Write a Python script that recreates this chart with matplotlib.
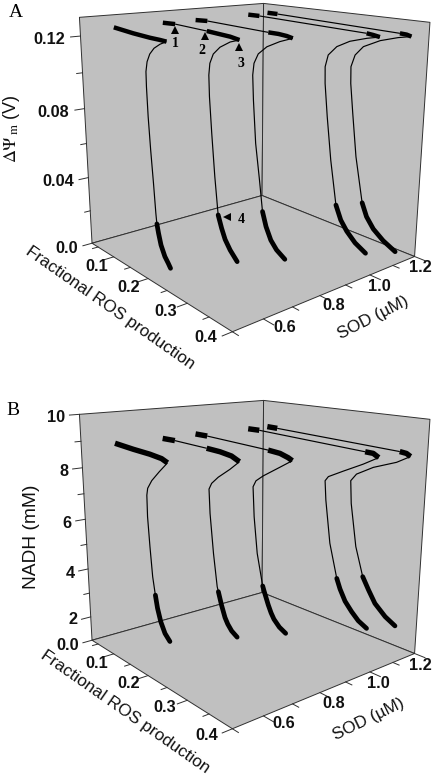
"""Two-panel 3D bifurcation plot: membrane potential and NADH vs ROS production and SOD."""

import matplotlib
matplotlib.use("Agg")
import matplotlib.pyplot as plt
from mpl_toolkits.mplot3d.art3d import Poly3DCollection

plt.rcParams["font.family"] = ["Liberation Sans", "DejaVu Sans"]

SOD = [0.6, 0.8, 0.9, 1.1, 1.2]

# each curve is a list of runs, starting thick and alternating thick / thin
PSI_ROS = [
    [[.04, .097, .143, .169, .186],
     [.186, .169, .153, .141, .133, .129, .129, .131, .135, .14, .144, .146],
     [.146, .15, .156, .166, .175, .181]],
    [[.018, .054], [.054, .14], [.14, .165, .198, .22],
     [.22, .198, .173, .156, .147, .144, .145, .15, .157, .165],
     [.165, .174, .183, .196, .214]],
    [[.038, .071], [.071, .224], [.224, .247, .265, .278],
     [.278, .25, .221, .201, .191, .188, .19, .196, .206, .214],
     [.214, .223, .235, .249, .269]],
    [[.05, .08], [.08, .326], [.326, .339, .352],
     [.352, .327, .293, .266, .248, .242, .243, .25, .261, .276],
     [.276, .288, .302, .321, .344]],
    [[.041, .068], [.068, .346], [.346, .359, .368],
     [.368, .343, .308, .274, .257, .249, .25, .257, .268, .286],
     [.286, .297, .313, .335, .361]],
]
PSI = [
    [[.1236, .1224, .1218, .1217, .1215],
     [.1215, .1195, .1168, .1133, .1089, .1035, .0954, .0793, .0612, .0427, .0259, .0199],
     [.0199, .0148, .0086, .003, .0001, -.0021]],
    [[.1227, .1231], [.1231, .1222], [.1222, .1218, .1213, .1204],
     [.1204, .1185, .1147, .1103, .1048, .0981, .086, .0653, .0404, .0181],
     [.0181, .0109, .0051, .0001, -.0048]],
    [[.1236, .1241], [.1241, .123], [.123, .123, .1226, .1219],
     [.1219, .1191, .1152, .1105, .1049, .0982, .0843, .0597, .0389, .0208],
     [.0208, .0126, .0057, .0014, -.0019]],
    [[.1247, .1248], [.1248, .1232], [.1232, .1228, .1222],
     [.1222, .1206, .1177, .1137, .1083, .1014, .0919, .0731, .0482, .0223],
     [.0223, .0143, .009, .004, .0004]],
    [[.1244, .1244], [.1244, .1224], [.1224, .1222, .1215],
     [.1215, .12, .117, .1123, .1068, .0997, .09, .0727, .0473, .0204],
     [.0204, .0128, .0068, .002, -.0018]],
]
NADH_ROS = [
    [[.041, .095, .141, .172, .187],
     [.187, .165, .144, .132, .129, .129, .133, .138, .144],
     [.144, .149, .157, .168, .181]],
    [[.016, .052], [.052, .139], [.139, .173, .201, .22],
     [.22, .197, .168, .151, .144, .146, .154, .163, .166],
     [.166, .174, .183, .19, .2, .214]],
    [[.037, .07], [.07, .224], [.224, .251, .269, .278],
     [.278, .251, .213, .196, .189, .192, .2, .214],
     [.214, .218, .228, .235, .242, .255, .27]],
    [[.05, .08], [.08, .325], [.325, .341, .352],
     [.352, .322, .282, .25, .243, .246, .258, .276],
     [.276, .284, .296, .311, .326, .344]],
    [[.041, .068], [.068, .348], [.348, .361, .369],
     [.369, .343, .297, .262, .25, .253, .267, .285],
     [.285, .299, .314, .337, .358]],
]
NADH = [
    [[8.84, 8.77, 8.73, 8.67, 8.57],
     [8.57, 8.18, 7.78, 7.45, 7.18, 6.37, 5.24, 4.09, 3.4],
     [3.4, 2.91, 2.43, 2.04, 1.82]],
    [[8.73, 8.74], [8.74, 8.69], [8.69, 8.66, 8.59, 8.44],
     [8.44, 8.08, 7.68, 7.38, 7.13, 6.18, 4.61, 3.3, 3.11],
     [3.11, 2.61, 2.15, 1.93, 1.72, 1.57]],
    [[8.86, 8.86], [8.86, 8.75], [8.75, 8.71, 8.61, 8.53],
     [8.53, 8.2, 7.74, 7.49, 7.23, 6.06, 4.63, 3.38],
     [3.38, 3.17, 2.69, 2.41, 2.2, 1.97, 1.83]],
    [[8.9, 8.91], [8.91, 8.74], [8.74, 8.73, 8.61],
     [8.61, 8.27, 7.87, 7.54, 7.35, 6.59, 4.89, 3.54],
     [3.54, 3.15, 2.72, 2.39, 2.12, 1.94]],
    [[8.87, 8.86], [8.86, 8.69], [8.69, 8.66, 8.57],
     [8.57, 8.27, 7.92, 7.53, 7.22, 6.3, 4.57, 3.4],
     [3.4, 2.92, 2.45, 2.05, 1.82]],
]

ROS_LIM = (0.03, 0.4)
SOD_LIM = (0.5, 1.2)
PSI_LIM = (0.0, 0.13)
NADH_LIM = (1.0, 10.0)

ROS_TICKS = [0.1, 0.2, 0.3, 0.4]
ROS_MINOR = [0.05, 0.15, 0.25, 0.35]
SOD_TICKS = [0.6, 0.8, 1.0, 1.2]
SOD_MINOR = [0.5, 0.7, 0.9, 1.1]
PSI_TICKS = [0.0, 0.04, 0.08, 0.12]
PSI_MINOR = [0.02, 0.06, 0.10]
NADH_TICKS = [1, 2, 4, 6, 8, 10]
NADH_MINOR = [3, 5, 7, 9]

GREY = "#c0c0c0"
EDGE = "#303030"
FIG_W, FIG_H = 433, 778
AX_SIZE = 400.8  # px, square 3D axes


def draw_panel(fig, bottom_px, ros, values, zlim, zticks, zminor, upper_lw):
    ax = fig.add_axes([44.84 / FIG_W, bottom_px / FIG_H, AX_SIZE / FIG_W, AX_SIZE / FIG_H],
                      projection="3d", computed_zorder=False)
    ax.set_xlim(ROS_LIM)
    ax.set_ylim(SOD_LIM)
    ax.set_zlim(zlim)
    ax.view_init(elev=15.41, azim=-39.88, roll=-0.21)
    ax.set_proj_type("persp", focal_length=0.352)
    ax.set_box_aspect((1, 0.994, 0.9955), zoom=1)
    ax.set_axis_off()
    ax.patch.set_alpha(0)

    x0, x1 = ROS_LIM
    y0, y1 = SOD_LIM
    z0, z1 = zlim
    walls = [
        [(x0, y0, z0), (x0, y1, z0), (x0, y1, z1), (x0, y0, z1)],
        [(x0, y1, z0), (x1, y1, z0), (x1, y1, z1), (x0, y1, z1)],
        [(x0, y0, z0), (x1, y0, z0), (x1, y1, z0), (x0, y1, z0)],
    ]
    ax.add_collection3d(Poly3DCollection(walls, facecolor=GREY, edgecolor=EDGE, linewidth=0.7,
                                         zorder=1), autolim=False)

    xtick = (x1 - x0) * 0.055
    ytick = (y1 - y0) * 0.045
    for tick, frac in [(t, 1.0) for t in ROS_TICKS] + [(t, 0.6) for t in ROS_MINOR]:
        ax.plot([tick, tick], [y0, y0 - ytick * frac], [z0, z0], color=EDGE, lw=0.7, zorder=2)
    for tick, frac in [(t, 1.0) for t in SOD_TICKS] + [(t, 0.6) for t in SOD_MINOR]:
        ax.plot([x1, x1 + xtick * frac], [tick, tick], [z0, z0], color=EDGE, lw=0.7, zorder=2)
    for tick, frac in [(t, 1.0) for t in zticks] + [(t, 0.6) for t in zminor]:
        ax.plot([x0, x0], [y0, y0 - ytick * frac], [tick, tick], color=EDGE, lw=0.7, zorder=2)

    for sod, curve_x, curve_z in zip(SOD, ros, values):
        for i, (run_x, run_z) in enumerate(zip(curve_x, curve_z)):
            last = i == len(curve_x) - 1
            if i % 2:
                width = 0.85
            elif last:
                width = 3.4
            else:
                width = upper_lw
            ax.plot(run_x, [sod] * len(run_x), run_z, color="black", lw=width, zorder=3,
                    solid_capstyle="round" if last else "butt", solid_joinstyle="round")
    return ax


def main() -> None:
    fig = plt.figure(figsize=(FIG_W / 100, FIG_H / 100), dpi=100, facecolor="white")
    draw_panel(fig, 432.66, PSI_ROS, PSI, PSI_LIM, PSI_TICKS, PSI_MINOR, 3.2)
    draw_panel(fig, 35.66, NADH_ROS, NADH, NADH_LIM, NADH_TICKS, NADH_MINOR, 3.9)

    # text and the numbered arrowheads sit on a pixel overlay
    over = fig.add_axes([0, 0, 1, 1], zorder=5)
    over.set_xlim(0, FIG_W)
    over.set_ylim(FIG_H, 0)
    over.axis("off")

    bold = dict(fontsize=11.7, fontweight="bold", ha="center", va="center", color="#111111")
    tick_labels = [
        ("0.12", 49, 39), ("0.08", 53, 112), ("0.04", 58, 181), ("0.0", 67, 248),
        ("0.1", 97, 266), ("0.2", 129, 287), ("0.3", 166, 311), ("0.4", 206, 337),
        ("0.6", 285, 327), ("0.8", 334, 305), ("1.0", 379, 286), ("1.2", 420, 267),
        ("10", 56, 417), ("8", 64, 471), ("6", 67, 523), ("4", 70, 573), ("2", 73, 620),
        ("0.0", 68, 646),
        ("0.1", 97, 664), ("0.2", 129, 684), ("0.3", 165, 708), ("0.4", 207, 736),
        ("0.6", 284, 724), ("0.8", 334, 704), ("1.0", 378, 683), ("1.2", 420, 666),
    ]
    for label, px, py in tick_labels:
        over.text(px, py, label, **bold)

    plain = dict(fontsize=12.3, ha="center", va="center", rotation_mode="anchor", color="#111111")
    over.text(110, 308, "Fractional ROS production", rotation=-35, **plain)
    over.text(125, 712, "Fractional ROS production", rotation=-35, **plain)
    over.text(373, 318, "SOD (\u00b5M)", rotation=27, **plain)
    over.text(369, 719, "SOD (\u00b5M)", rotation=26, **plain)
    over.text(11, 129, "$\\Delta\\Psi_{\\,\\mathrm{m}}$ (V)", rotation=90, math_fontfamily="stix",
              fontsize=13, ha="center", va="center", rotation_mode="anchor", color="#111111")
    over.text(31, 537, "NADH (mM)", rotation=90, fontsize=13.8, ha="center", va="center",
              rotation_mode="anchor", color="#111111")

    serif = ["Liberation Serif", "DejaVu Serif"]
    over.text(16, 12, "A", family=serif, fontsize=14, ha="center", va="center")
    over.text(13, 410, "B", family=serif, fontsize=14, ha="center", va="center")

    arrowheads = [("^", 175, 30), ("^", 205, 36), ("^", 239, 47), ("<", 227, 217)]
    for marker, px, py in arrowheads:
        over.plot([px], [py], marker=marker, color="black", ms=6, mew=0, ls="none")
    for label, px, py in [("1", 175, 43), ("2", 202, 50), ("3", 241, 63), ("4", 241, 219)]:
        over.text(px, py, label, family=serif, fontsize=10, fontweight="bold",
                  ha="center", va="center")

    fig.savefig("out.png", dpi=100)
    plt.close(fig)


if __name__ == "__main__":
    main()
